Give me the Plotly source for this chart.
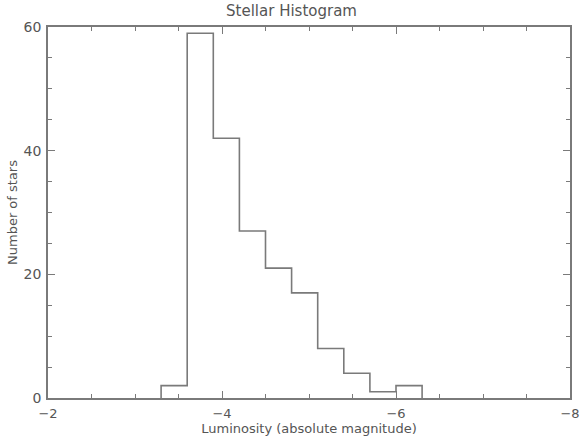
import plotly.graph_objects as go

bin_edges = [-3.3, -3.6, -3.9, -4.2, -4.5, -4.8, -5.1, -5.4, -5.7, -6.0, -6.3]
counts = [2, 59, 42, 27, 21, 17, 8, 4, 1, 2]
x_ticks = [-2, -4, -6, -8]
y_ticks = [0, 20, 40, 60]

xs = [bin_edges[0]] + bin_edges
ys = [0] + counts + [0]

LINE = "#7a7a7a"
TXT = "#555555"
FONT = "DejaVu Sans"

fig = go.Figure()
fig.add_trace(go.Scatter(x=xs, y=ys, mode="lines", line=dict(color=LINE, width=1.6, shape="hv"),
                         hoverinfo="skip", showlegend=False))

axis_common = dict(showgrid=False, zeroline=False, showline=True, linecolor=LINE, linewidth=1.6,
                   mirror="ticks", ticks="inside", tickcolor=LINE, tickwidth=1, ticklen=7,
                   automargin=False)

fig.update_layout(
    width=583, height=440,
    margin=dict(l=48, r=13, t=27, b=42),
    plot_bgcolor="white", paper_bgcolor="white",
    title=dict(text="Stellar Histogram", x=0.5, xanchor="center", y=0.975, yanchor="middle",
               font=dict(family=FONT, size=15, color=TXT)),
    xaxis=dict(range=[-2, -8], tickvals=x_ticks, ticktext=[f"\u2212{abs(v)}" for v in x_ticks],
               ticklabelstandoff=3, tickfont=dict(family=FONT, size=13, color=TXT),
               minor=dict(dtick=0.5, ticks="inside", ticklen=4, tickcolor=LINE, tickwidth=1),
               title=dict(text="Luminosity (absolute magnitude)", standoff=0,
                          font=dict(family=FONT, size=13, color=TXT)),
               **axis_common),
    yaxis=dict(range=[0, 60], tickvals=y_ticks, ticklabelstandoff=2,
               tickfont=dict(family=FONT, size=14, color=TXT),
               minor=dict(dtick=5, ticks="inside", ticklen=4, tickcolor=LINE, tickwidth=1),
               title=dict(text="Number of stars", standoff=3,
                          font=dict(family=FONT, size=13, color=TXT)),
               **axis_common),
)

fig.write_html("out.html")
